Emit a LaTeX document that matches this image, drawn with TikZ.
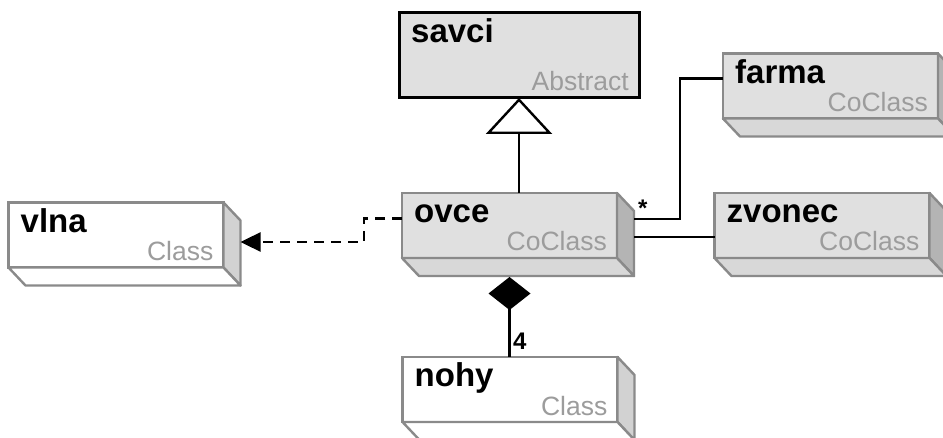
\documentclass[tikz,border=0pt]{standalone}
\usepackage{fontspec}
\setmainfont{Liberation Sans}
\usetikzlibrary{calc, arrows.meta}

\definecolor{coface}{HTML}{E0E0E0}
\definecolor{coside}{HTML}{B4B4B4}
\definecolor{cobottom}{HTML}{D8D8D8}
\definecolor{clside}{HTML}{D2D2D2}
\definecolor{edge}{HTML}{8A8A8A}
\definecolor{typegray}{HTML}{9C9C9C}

\begin{document}
\begin{tikzpicture}[x=1pt, y=-1pt, >=Stealth,
	box/.style={draw=edge, line width=2.4pt, minimum width=215pt, minimum height=65pt,
		inner sep=0pt, outer sep=0pt},
	coclass/.style={box, fill=coface},
	plain/.style={box, fill=white},
	clsname/.style={anchor=base west, inner sep=0pt, font=\fontsize{33}{33}\selectfont\bfseries},
	clstype/.style={anchor=base east, inner sep=0pt, text=typegray, font=\fontsize{26.5}{26.5}\selectfont},
	link/.style={line width=2.4pt},
	mult/.style={inner sep=0pt, font=\fontsize{24}{24}\selectfont\bfseries}]
	\def\dx{17}	% depth, x
	\def\dy{18}	% depth, y

	\useasboundingbox (0,0) rectangle (943,438);

	% Abstract class
	\node[box, draw=black, line width=3pt, fill=coface, minimum width=240pt,
		minimum height=85pt] (savci) at (519, 55.5) {};

	% Front faces
	\node[coclass] (ovce) at (509.5, 225.5) {};
	\node[coclass] (farma) at (830.5, 86) {};
	\node[coclass] (zvonec) at (822, 225.5) {};
	\node[plain] (vlna) at (116, 235) {};
	\node[plain] (nohy) at (510, 389.5) {};

	% Side and bottom faces
	\foreach \n/\s/\b in {ovce/coside/cobottom, farma/coside/cobottom,
		zvonec/coside/cobottom, vlna/clside/white, nohy/clside/white}{
		\draw[edge, line width=2.4pt, line join=round, fill=\s] (\n.north east) -- ++(\dx,\dy)
			-- ($(\n.south east)+(\dx,\dy)$) -- (\n.south east) -- cycle;
		\draw[edge, line width=2.4pt, line join=round, fill=\b] (\n.south west) -- ++(\dx,\dy)
			-- ($(\n.south east)+(\dx,\dy)$) -- (\n.south east) -- cycle;
	}

	% Names and stereotypes
	\foreach \n/\t in {savci/Abstract, ovce/CoClass, farma/CoClass, zvonec/CoClass,
		vlna/Class, nohy/Class}{
		\node[clsname] (\n-name) at ($(\n.north west)+(12,30)$) {\n};
		\node[clstype] (\n-type) at ($(\n.south east)+(-10,-7)$) {\t};
	}

	% Inheritance
	\draw[link, -{Triangle[open, length=36pt, width=66pt, fill=white]}]
		(savci.south |- ovce.north) -- (savci.south);

	% Dependency
	\draw[link, dash pattern=on 10pt off 7pt, -{Triangle[length=20pt, width=19pt]}]
		([yshift=7pt]ovce.west) -- ++(-38,0) |- ([xshift=\dx pt, yshift=-7pt]vlna.east);

	% Associations
	\draw[link] ([xshift=\dx pt, yshift=6.5pt]ovce.east)
		node[mult, anchor=base west, xshift=3pt, yshift=2pt] (star) {*}
		-- ++(46,0) |- ([yshift=7.5pt]farma.west);
	\draw[link] ([xshift=\dx pt, yshift=-11.5pt]ovce.east) -- ([yshift=-11.5pt]zvonec.west);

	% Composition
	\draw[link, {Diamond[length=33pt, width=42pt]}-] ([yshift=-19pt]ovce.south)
		-- (ovce.south |- nohy.north);
	\node[mult, anchor=base west] (four) at ($(nohy.north)+(3,-7)$) {4};
\end{tikzpicture}
\end{document}
